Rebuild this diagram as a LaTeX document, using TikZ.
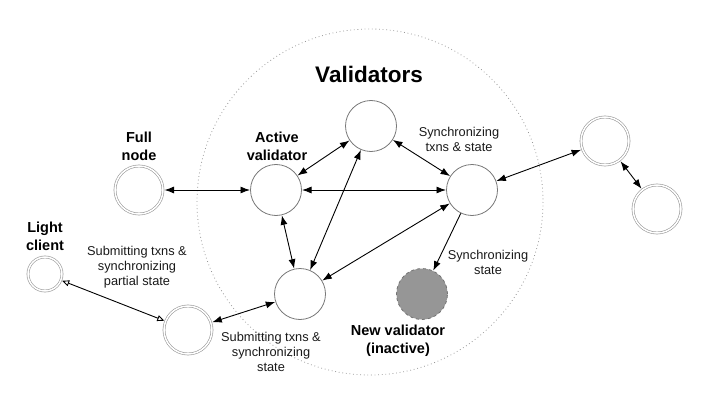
\documentclass[tikz,border=0pt]{standalone}
\usepackage{fontspec}
\setmainfont{Liberation Sans}
\usetikzlibrary{arrows.meta}
\definecolor{newfill}{RGB}{150,150,150}
\definecolor{newdraw}{RGB}{115,115,115}
\definecolor{ringgray}{RGB}{120,120,120}
\begin{document}
\begin{tikzpicture}[x=1pt,y=-1pt,
  single/.style={circle,draw=ringgray,line width=0.8pt,minimum size=51pt,inner sep=0pt,outer sep=0.5pt},
  dbl/.style={circle,draw=black!40,double=white,double distance=1.5pt,line width=0.6pt,minimum size=48pt,inner sep=0pt,outer sep=1.5pt},
  inactive/.style={circle,fill=newfill,draw=newdraw,dashed,line width=0.8pt,minimum size=51pt,inner sep=0pt},
  bl/.style={font=\bfseries\fontsize{14.5}{18}\selectfont,align=center,inner sep=0pt},
  lbl/.style={font=\fontsize{12.8}{15}\selectfont,align=center,inner sep=0pt,text=black!90},
  link/.style={line width=0.9pt,{Latex[length=9.5pt,width=7pt]}-{Latex[length=9.5pt,width=7pt]}},
  onelink/.style={line width=0.9pt,-{Latex[length=9.5pt,width=7pt]}},
  openlink/.style={line width=0.9pt,{Triangle[open,length=7pt,width=6pt]}-{Triangle[open,length=7pt,width=6pt]}},
  group/.style={draw=black!40,line width=0.8pt,dash pattern=on 0.8pt off 2.8pt}
]
\path[use as bounding box] (0,0) rectangle (709,401);
\draw[group] (370,202) circle (173);

% validators
\node[single] (act) at (276,190) {};
\node[single] (top) at (371,126) {};
\node[single] (rgt) at (472,190) {};
\node[single] (bot) at (300,294) {};
\node[inactive] (new) at (422,294) {};

% outside
\node[dbl] (full) at (139,190) {};
\node[dbl,minimum size=34pt] (light) at (45,274) {};
\node[dbl] (sub) at (188,330) {};
\node[dbl] (fr1) at (605,141) {};
\node[dbl] (fr2) at (657,209) {};

% labels
\node[font=\bfseries\fontsize{22.5}{26}\selectfont,inner sep=0pt] (title) at (369,74) {Validators};
\node[bl] (lfull) at (139,146) {Full\\node};
\node[bl] (llight) at (45,236) {Light\\client};
\node[bl] (lact) at (277,146) {Active\\validator};
\node[bl] (lnew) at (398,341) {New validator\\(inactive)};
\node[lbl] (l1) at (459,139) {Synchronizing\\txns \& state};
\node[lbl] (l2) at (488,262) {Synchronizing\\state};
\node[lbl] (l3) at (137,267) {Submitting txns \&\\synchronizing\\partial state};
\node[lbl] (l4) at (271,352) {Submitting txns \&\\synchronizing\\state};

% connectors
\draw[link] (full) -- (act);
\draw[link] (act) -- (rgt);
\draw[link] (act) -- (top);
\draw[link] (act) -- (bot);
\draw[link] (top) -- (rgt);
\draw[link] (top) -- (bot);
\draw[link] (rgt) -- (bot);
\draw[onelink] (rgt) -- (new);
\draw[link] (rgt) -- (fr1);
\draw[link] (fr1) -- (fr2);
\draw[link] (bot) -- (sub);
\draw[openlink] (light) -- (sub);
\end{tikzpicture}
\end{document}
